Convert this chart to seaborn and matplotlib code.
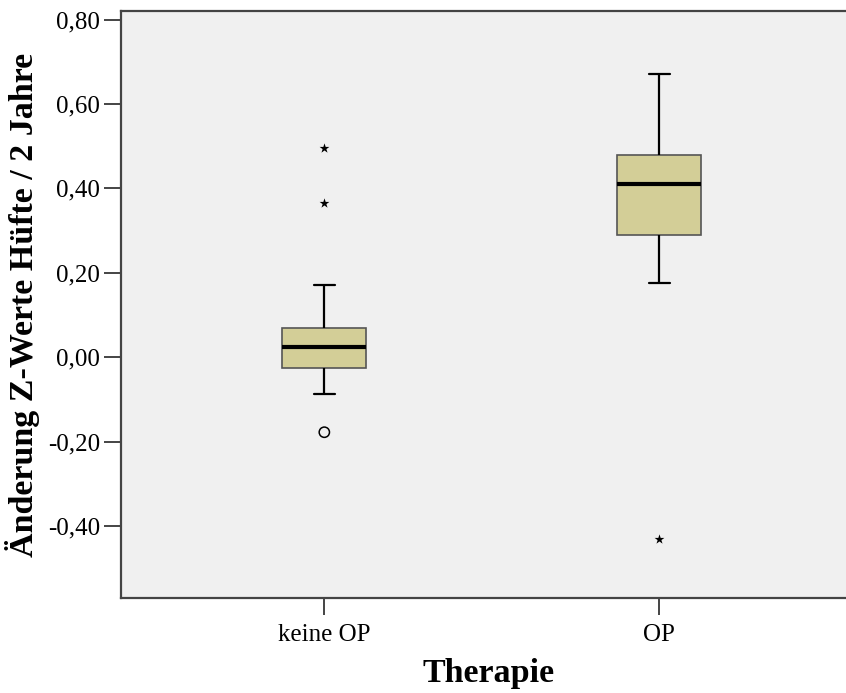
import numpy as np
import pandas as pd
import matplotlib
matplotlib.use("Agg")
import matplotlib.pyplot as plt
import seaborn as sns

# Five-number summaries per therapy group
groups = ["keine OP", "OP"]
whisker_low = [-0.088, 0.175]
q1 = [-0.026, 0.289]
median = [0.024, 0.410]
q3 = [0.069, 0.479]
whisker_high = [0.171, 0.671]

# Outliers: mild (circle) and extreme (star)
mild_outliers = {"keine OP": [-0.178], "OP": []}
extreme_outliers = {"keine OP": [0.365, 0.495], "OP": [-0.431]}

y_ticks = [-0.40, -0.20, 0.00, 0.20, 0.40, 0.60, 0.80]
y_tick_labels = ["-0,40", "-0,20", "0,00", "0,20", "0,40", "0,60", "0,80"]

# Build per-group samples whose quartiles and whisker ends reproduce the summaries
rows = []
for i, g in enumerate(groups):
    vals = ([whisker_low[i]] + [q1[i]] * 3 + [median[i]] * 3 + [q3[i]] * 3
            + [whisker_high[i]])
    for v in vals:
        rows.append({"Therapie": g, "Wert": v})
df = pd.DataFrame(rows)

out_rows = []
for g in groups:
    for v in mild_outliers[g]:
        out_rows.append({"Therapie": g, "Wert": v, "Art": "mild"})
    for v in extreme_outliers[g]:
        out_rows.append({"Therapie": g, "Wert": v, "Art": "extrem"})
df_out = pd.DataFrame(out_rows)
df_out["pos"] = df_out["Therapie"].map({g: i for i, g in enumerate(groups)})

sns.set_theme(style="white")
plt.rcParams["font.family"] = ["Liberation Serif", "DejaVu Serif"]

fig = plt.figure(figsize=(8.46, 6.93), dpi=100)
ax = fig.add_axes([0.143, 0.137, 0.87, 0.847])
ax.set_facecolor("#F0F0F0")

sns.boxplot(
    data=df, x="Therapie", y="Wert", order=groups, ax=ax,
    width=0.25, whis=1.5, showfliers=False,
    color="#D3CE97", saturation=1,
    boxprops=dict(facecolor="#D3CE97", edgecolor="#555555", linewidth=1.2),
    medianprops=dict(color="black", linewidth=3),
    whiskerprops=dict(color="black", linewidth=1.6),
    capprops=dict(color="black", linewidth=1.6),
    capwidths=0.0625,
)

# Outlier markers
mild = df_out[df_out["Art"] == "mild"]
ext = df_out[df_out["Art"] == "extrem"]
ax.scatter(mild["pos"], mild["Wert"], marker="o", facecolors="none",
           edgecolors="black", s=55, linewidths=1.1, zorder=5)
ax.scatter(ext["pos"], ext["Wert"], marker="*", color="black",
           s=55, linewidths=0, zorder=5)

ax.set_xlim(-0.607, 1.59)
ax.set_ylim(-0.571, 0.820)
ax.set_yticks(y_ticks)
ax.set_yticklabels(y_tick_labels)

for side in ["left", "bottom", "top"]:
    ax.spines[side].set_visible(True)
    ax.spines[side].set_color("#444444")
    ax.spines[side].set_linewidth(1.6)
ax.spines["right"].set_visible(False)

ax.tick_params(axis="both", which="both", length=12, width=1.4, color="#444444",
               labelsize=18, labelcolor="black", pad=3,
               left=True, bottom=True)
ax.tick_params(axis="x", pad=7)

ax.set_xlabel("Therapie", fontsize=24.5, fontweight="bold", labelpad=8, color="black")
ax.set_ylabel("Änderung Z-Werte Hüfte / 2 Jahre", fontsize=24.5, fontweight="bold",
              labelpad=6, color="black")

fig.savefig("out.png", dpi=100, facecolor="white")
